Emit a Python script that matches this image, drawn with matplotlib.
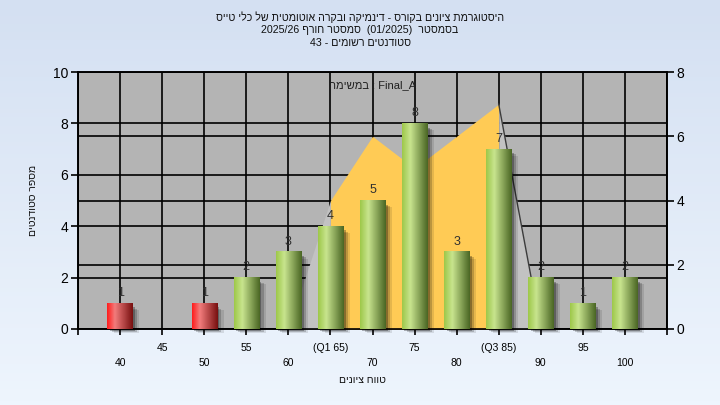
import numpy as np
import matplotlib
matplotlib.use('Agg')
from matplotlib import pyplot as plt
from matplotlib.colors import LinearSegmentedColormap
from matplotlib.patches import Rectangle

plt.rcParams['font.family'] = ['Liberation Sans', 'DejaVu Sans']

# data
scores = [40, 45, 50, 55, 60, 65, 70, 75, 80, 85, 90, 95, 100]
counts = [1, 0, 1, 2, 3, 4, 5, 8, 3, 7, 2, 1, 2]
pass_score = 55

upper_ticks = [45, 55, 65, 75, 85, 95]
upper_labels = ['45', '55', '(Q1 65)', '75', '(Q3 85)', '95']
lower_ticks = [40, 50, 60, 70, 80, 90, 100]
lower_labels = ['40', '50', '60', '70', '80', '90', '100']

area_x = [60, 65, 70, 75, 80, 85, 90]
area_y = [0, 4, 6, 5, 6, 7, 0]

title_lines = [
    'היסטוגרמת ציונים בקורס - דינמיקה ובקרה אוטומטית של כלי טייס',
    'בסמסטר  (01/2025)  סמסטר חורף 2025/26',
    'סטודנטים רשומים - 43',
]
ylabel = 'מספר סטודנטים'
xlabel = 'טווח ציונים'
task_name = 'Final_A'


def heb(s):
    # matplotlib has no bidi support, so lay the words out right to left by hand
    out = []
    for w in reversed(s.split(' ')):
        if any('\u0590' <= c <= '\u05ff' for c in w):
            out.append(w[::-1])
        else:
            out.append(w)
    return ' '.join(out)


fig = plt.figure(figsize=(7.2, 4.05), dpi=100)

# light blue gradient behind everything
bg = fig.add_axes([0, 0, 1, 1], zorder=-10)
bg.imshow(np.linspace(0, 1, 100)[:, None], cmap=LinearSegmentedColormap.from_list('bg', ['#d4e0f2', '#eef5fd']),
          aspect='auto', extent=(0, 1, 0, 1), origin='upper')
bg.axis('off')

rect = [78 / 720, 1 - 329 / 405, (667 - 78) / 720, (329 - 72) / 405]
ax2 = fig.add_axes(rect)          # bottom layer: background, right scale, x axis
ax = ax2.twinx()                  # top layer: left scale, bars
ax.set_zorder(ax2.get_zorder() + 1)
ax.patch.set_visible(False)
ax2.set_facecolor('#b4b4b4')

ax2.yaxis.tick_right()
ax2.yaxis.set_label_position('right')
ax.yaxis.tick_left()
ax.yaxis.set_label_position('left')

ax2.set_ylim(0, 8)
ax2.set_yticks(range(0, 9, 2))
ax2.set_axisbelow(True)
ax2.grid(axis='y', color='black', lw=1.2)
ax2.grid(axis='x', which='both', color='black', lw=1.2)

ax.set_ylim(0, 10)
ax.set_yticks(range(0, 11, 2))
ax.set_axisbelow(True)
ax.grid(axis='y', color='black', lw=1.2, zorder=0.5)

# distribution area, on the right-hand scale
ax.fill_between(area_x[1:6], area_y[1:6], color='#ffcb55', lw=0, zorder=1, transform=ax2.transData)
ax.fill_between(area_x[:2], area_y[:2], color='#c2c2c2', lw=0, zorder=1, transform=ax2.transData)
ax.fill_between(area_x[5:], area_y[5:], color='#c2c2c2', lw=0, zorder=1, transform=ax2.transData)
ax.plot(area_x[5:], area_y[5:], color='#3c3c3c', lw=1, zorder=1.5, transform=ax2.transData)

green = LinearSegmentedColormap.from_list('g', [(0, '#9ec84a'), (0.32, '#c8e48e'), (1, '#4a6624')])
red = LinearSegmentedColormap.from_list('r', [(0, '#ff1c1c'), (0.3, '#f27c7c'), (1, '#781010')])
grad = np.linspace(0, 1, 64)[None, :]
w = 3
for s, c in zip(scores, counts):
    if c == 0:
        continue
    # soft shadow
    for k, a in [(0.8, 0.10), (0.55, 0.18), (0.3, 0.28)]:
        ax.add_patch(Rectangle((s - w / 2 + k, -k * 0.2), w, c - 0.1, color='black', alpha=a, lw=0,
                               zorder=2, clip_on=False))
    cmap = red if s < pass_score else green
    ax.imshow(grad, cmap=cmap, extent=(s - w / 2, s + w / 2, 0, c), aspect='auto',
              interpolation='bilinear', zorder=3)
    ax.annotate(str(c), (s, c), xytext=(0, 3), textcoords='offset points', ha='center', va='bottom',
                fontsize=9, color='#303030', zorder=4)

ax2.set_xlim(35, 105)
ax.set_ylim(0, 10)
ax2.set_ylim(0, 8)

ax2.set_xticks([35] + upper_ticks + [105])
ax2.set_xticklabels([''] + upper_labels + [''])
ax2.set_xticks(lower_ticks, minor=True)
ax2.set_xticklabels(lower_labels, minor=True)
ax2.tick_params(axis='x', which='major', direction='out', length=4, width=1.2, pad=6, labelsize=7.5)
ax2.tick_params(axis='x', which='minor', direction='out', length=4, width=1.2, pad=17, labelsize=7.5)
ax.tick_params(axis='y', direction='out', length=5, width=1.2, labelsize=10, pad=2)
ax2.tick_params(axis='y', direction='out', length=5, width=1.2, labelsize=10, pad=2)

for a in (ax, ax2):
    for sp in a.spines.values():
        sp.set_color('black')
        sp.set_linewidth(1.2)

ax.text(0.5, 0.95, heb('במשימה') + ' : ' + task_name, transform=ax.transAxes, ha='center', va='center',
        fontsize=8, color='#202020', zorder=5)

for i, line in enumerate(title_lines):
    fig.text(0.5, 1 - (17 + 13 * i) / 405, heb(line), ha='center', va='center', fontsize=7.7, color='#101010')

fig.text(33 / 720, 1 - 200 / 405, heb(ylabel), rotation=90, ha='center', va='center', fontsize=7.5, color='#101010')
fig.text(362 / 720, 1 - 380 / 405, heb(xlabel), ha='center', va='center', fontsize=7.5, color='#101010')

plt.savefig('out.png', dpi=100)
